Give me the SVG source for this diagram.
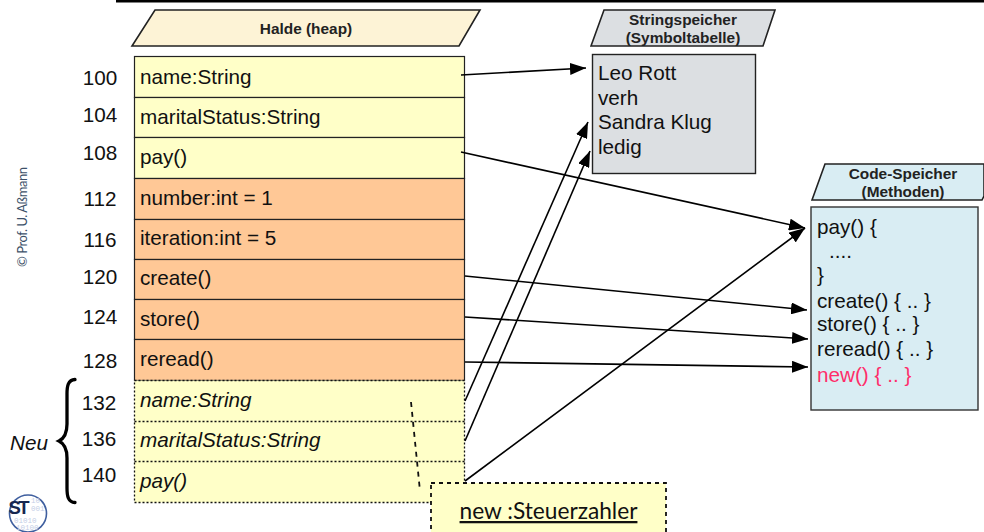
<svg xmlns="http://www.w3.org/2000/svg" width="984" height="532" viewBox="0 0 984 532">
<defs>
<marker id="ah" markerUnits="userSpaceOnUse" markerWidth="18" markerHeight="12" refX="16" refY="6" orient="auto"><path d="M0 0L16 6L0 12Z" fill="#000"/></marker>
</defs>
<style>
text{font-family:"Liberation Sans",Arial,sans-serif;fill:#111}
.f{font-size:20.7px}
.h{font-size:15.4px;font-weight:700;text-anchor:middle;fill:#222}
.n{font-size:20.7px;text-anchor:middle}
.i{font-size:20.7px;font-style:italic}
.cell{stroke:#222;stroke-width:1.2}
.y{fill:#ffffc8}
.o{fill:#ffc896}
.d{stroke:#111;stroke-width:1.3;stroke-dasharray:2 2;fill:none}
.c{stroke:#000;stroke-width:1.6;fill:none;marker-end:url(#ah)}
.b{font-family:"Liberation Mono",monospace;font-size:7.5px;fill:#c4cee6}
</style>
<rect width="984" height="532" fill="#fff"/>
<rect x="116" y="0" width="868" height="2.500" fill="#000"/>
<text transform="translate(27 267) rotate(-90)" style="font-family:Lato,'Open Sans',sans-serif;font-size:13px;fill:#3c5068" textLength="100">© Prof. U. Aßmann</text>

<g id="heap-title"><path d="M132 46L155 10H480L459 46Z" fill="#fdf3d6" stroke="#222" stroke-width="1.6"/><text class="h" x="306" y="34">Halde (heap)</text></g>
<g id="heap-static">
<rect class="cell y" x="134.500" y="56.500" width="330" height="41"/><text class="f" x="140" y="84">name:String</text>
<rect class="cell y" x="134.500" y="97.500" width="330" height="40"/><text class="f" x="140" y="124">maritalStatus:String</text>
<rect class="cell y" x="134.500" y="137.500" width="330" height="41"/><text class="f" x="140" y="164">pay()</text>
<rect class="cell o" x="134.500" y="178.500" width="330" height="41"/><text class="f" x="140" y="205">number:int = 1</text>
<rect class="cell o" x="134.500" y="219.500" width="330" height="40"/><text class="f" x="140" y="245">iteration:int = 5</text>
<rect class="cell o" x="134.500" y="259.500" width="330" height="40"/><text class="f" x="140" y="285">create()</text>
<rect class="cell o" x="134.500" y="299.500" width="330" height="40"/><text class="f" x="140" y="326">store()</text>
<rect class="cell o" x="134.500" y="339.500" width="330" height="41"/><text class="f" x="140" y="366">reread()</text>
</g>
<g id="heap-new">
<rect class="y" x="134.500" y="380.500" width="330" height="122"/>
<path class="d" d="M134.500 380.500H464.500V502.500H134.500Z M134.500 421.500H464.500 M134.500 461.500H464.500"/>
<text class="i" x="140" y="407">name:String</text>
<text class="i" x="140" y="447">maritalStatus:String</text>
<text class="i" x="140" y="488">pay()</text>
</g>
<g id="addresses">
<text class="n" x="100" y="85">100</text><text class="n" x="100" y="122">104</text><text class="n" x="100" y="160">108</text><text class="n" x="100" y="206">112</text><text class="n" x="100" y="247">116</text><text class="n" x="100" y="284">120</text><text class="n" x="100" y="324">124</text><text class="n" x="100" y="368">128</text><text class="n" x="99" y="410">132</text><text class="n" x="99" y="446">136</text><text class="n" x="99" y="482">140</text>
</g>
<g id="neu"><path d="M75 379.500C68 380 67 386 67 394V424C67 433 65 438 59 441C65 444 67 449 67 458V488C67 496 68 502 75 502.500" fill="none" stroke="#000" stroke-width="3.3" stroke-linecap="round"/><text x="10" y="450" style="font-size:20.7px;font-style:italic">Neu</text></g>

<g id="string-title"><path d="M591 46L604 10H775L763 46Z" fill="#dcdfe2" stroke="#222" stroke-width="1.6"/><text class="h" x="683" y="25">Stringspeicher</text><text class="h" x="683" y="43">(Symboltabelle)</text></g>
<g id="string-store"><rect x="592.500" y="54.500" width="163" height="119" fill="#dcdfe2" stroke="#222" stroke-width="1.4"/>
<text class="f" x="598" y="80">Leo Rott</text><text class="f" x="598" y="105">verh</text><text class="f" x="598" y="129">Sandra Klug</text><text class="f" x="598" y="154">ledig</text></g>

<g id="code-title"><path d="M812 200L825 164H984V196L982 200Z" fill="#d9edf3" stroke="#222" stroke-width="1.6"/><text class="h" x="903" y="179">Code-Speicher</text><text class="h" x="903" y="197">(Methoden)</text></g>
<g id="code-store"><rect x="811" y="207" width="167" height="203" fill="#d9edf3" stroke="#333" stroke-width="1.4"/>
<text class="f" x="817" y="234">pay() {</text><text class="f" x="829" y="258">....</text><text class="f" x="817" y="282">}</text><text class="f" x="817" y="308">create() { .. }</text><text class="f" x="817" y="331">store() { .. }</text><text class="f" x="817" y="356">reread() { .. }</text><text class="f" x="817" y="382" style="fill:#ff2d6a">new() { .. }</text></g>

<g id="connectors">
<path class="c" d="M461 75L586 68"/>
<path class="c" d="M461 152L805 228"/>
<path class="c" d="M465 401L588 122"/>
<path class="c" d="M465 441L590 151"/>
<path class="c" d="M465 481L805 228"/>
<path class="c" d="M465 276L807 310"/>
<path class="c" d="M465 317L808 339"/>
<path class="c" d="M465 362L808 367"/>
<path d="M411 402L420 491" fill="none" stroke="#111" stroke-width="1.8" stroke-dasharray="5 5"/>
</g>

<g id="steuerzahler"><rect x="431" y="483" width="235" height="60" fill="#ffffc8" stroke="#111" stroke-width="1.8" stroke-dasharray="4 4"/><text x="548.500" y="519" text-anchor="middle" text-decoration="underline" style="font-family:Lato,'Open Sans',sans-serif;font-size:22.700px">new :Steuerzahler</text></g>

<g id="logo">
<circle cx="28" cy="513.500" r="18.500" fill="#fff" stroke="#3f5f9f" stroke-width="1.6"/>
<text class="b" x="31" y="503">10</text><text class="b" x="31" y="511">001</text><text class="b" x="14" y="523">01010</text><text class="b" x="16" y="530">10100</text>
<text x="8.500" y="514" style="font-size:18.500px;font-weight:700;letter-spacing:-2.500px;fill:#16264f">ST</text>
</g>
</svg>
